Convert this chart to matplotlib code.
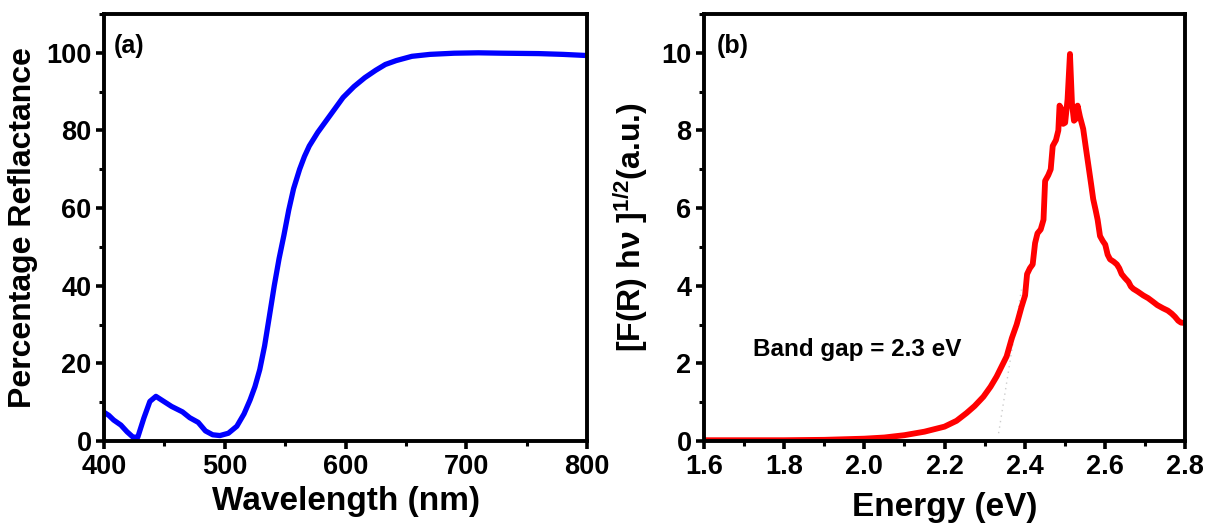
import numpy as np
import matplotlib
matplotlib.use("Agg")
import matplotlib.pyplot as plt
from matplotlib.ticker import MultipleLocator

# --- Data: diffuse reflectance spectrum ---
wavelength = [400, 404, 408, 414, 419, 424, 428, 433, 438, 443, 448, 456, 465, 471,
              478, 484, 490, 496, 503, 510, 516, 521, 525, 529, 533, 537, 541, 545,
              549, 553, 557, 562, 566, 570, 577, 584, 591, 598, 607, 616, 625, 633,
              642, 655, 670, 690, 710, 730, 760, 780, 800]
reflectance = [7.4, 6.6, 5.4, 4.1, 2.4, 1.0, 1.0, 5.9, 10.2, 11.5, 10.5, 8.9, 7.5, 6.0,
               4.8, 2.6, 1.6, 1.4, 2.0, 3.8, 7.0, 10.6, 14.0, 18.4, 24.5, 32.2, 40.0, 47.0,
               53.0, 59.5, 65.0, 70.0, 73.3, 76.0, 79.5, 82.5, 85.5, 88.5, 91.3, 93.6, 95.5, 97.0,
               98.0, 99.1, 99.6, 99.9, 100.0, 99.9, 99.8, 99.6, 99.3]

# --- Data: Kubelka-Munk plot ---
energy = [1.60, 1.70, 1.80, 1.90, 2.00, 2.05, 2.10, 2.15, 2.20, 2.23, 2.255, 2.275,
          2.297, 2.315, 2.330, 2.355, 2.368, 2.380, 2.392, 2.401, 2.406, 2.413, 2.420,
          2.426, 2.432, 2.440, 2.447, 2.451, 2.459, 2.465, 2.470, 2.478, 2.484, 2.487,
          2.492, 2.496, 2.501, 2.507, 2.513, 2.518, 2.523, 2.528, 2.532, 2.538, 2.546,
          2.552, 2.559, 2.566, 2.571, 2.577, 2.582, 2.588, 2.595, 2.601, 2.607, 2.613,
          2.622, 2.630, 2.636, 2.642, 2.650, 2.659, 2.665, 2.671, 2.682, 2.696, 2.708,
          2.721, 2.731, 2.745, 2.757, 2.767, 2.775, 2.783, 2.790, 2.800]
km_value = [0.02, 0.02, 0.02, 0.03, 0.06, 0.09, 0.15, 0.24, 0.37, 0.52, 0.72, 0.90,
            1.14, 1.40, 1.66, 2.18, 2.65, 3.00, 3.45, 3.75, 4.30, 4.45, 4.55,
            5.10, 5.35, 5.45, 5.70, 6.70, 6.85, 7.00, 7.60, 7.75, 8.00, 8.64,
            8.55, 8.17, 8.20, 8.80, 9.97, 8.70, 8.25, 8.30, 8.64, 8.35, 8.04,
            7.60, 7.10, 6.60, 6.23, 5.95, 5.70, 5.28, 5.15, 5.06, 4.80, 4.68,
            4.62, 4.55, 4.45, 4.30, 4.20, 4.10, 3.98, 3.92, 3.85, 3.75, 3.68,
            3.58, 3.50, 3.42, 3.36, 3.28, 3.20, 3.10, 3.05, 3.04]

# linear fit of the absorption edge
tangent_x = [2.335, 2.392]
tangent_y = [0.2, 3.9]

plt.rcParams['font.family'] = ['Liberation Sans', 'DejaVu Sans']
plt.rcParams['font.weight'] = 'bold'
plt.rcParams['mathtext.fontset'] = 'custom'
plt.rcParams['mathtext.rm'] = 'Liberation Sans:bold'
plt.rcParams['mathtext.bf'] = 'Liberation Sans:bold'
plt.rcParams['mathtext.it'] = 'Liberation Sans:bold'

fig = plt.figure(figsize=(12.09, 5.25), dpi=100)
ax_a = fig.add_axes([104 / 1209, 0.16, 483 / 1209, 427 / 525])
ax_b = fig.add_axes([704 / 1209, 0.16, 481 / 1209, 427 / 525])


def style_axes(ax):
    for sp in ax.spines.values():
        sp.set_linewidth(2.8)
    ax.tick_params(which='major', direction='out', length=6, width=2.6,
                   labelsize=19.5, pad=3, top=False, right=False)
    ax.tick_params(which='minor', direction='out', length=3.5, width=2.2,
                   top=False, right=False)
    for lab in ax.get_xticklabels() + ax.get_yticklabels():
        lab.set_fontweight('bold')


# (a) reflectance
ax_a.plot(wavelength, reflectance, color='#0000ff', lw=3.8, solid_capstyle='round')
ax_a.set_xlim(400, 800)
ax_a.set_ylim(0, 110)
ax_a.xaxis.set_major_locator(MultipleLocator(100))
ax_a.xaxis.set_minor_locator(MultipleLocator(50))
ax_a.yaxis.set_major_locator(MultipleLocator(20))
ax_a.yaxis.set_minor_locator(MultipleLocator(10))
ax_a.set_xlabel('Wavelength (nm)', fontsize=24, fontweight='bold', labelpad=5)
ax_a.set_ylabel('Percentage Reflactance', fontsize=23, fontweight='bold', labelpad=6)
ax_a.text(0.02, 0.925, '(a)', transform=ax_a.transAxes, fontsize=18,
          fontweight='bold', va='center', ha='left')
style_axes(ax_a)

# (b) Kubelka-Munk
ax_b.plot(tangent_x, tangent_y, color='#cccccc', lw=1.0, ls=(0, (1, 3)))
ax_b.plot(energy, km_value, color='#ff0000', lw=4.2, solid_capstyle='round')
ax_b.set_xlim(1.6, 2.8)
ax_b.set_ylim(0, 11)
ax_b.xaxis.set_major_locator(MultipleLocator(0.2))
ax_b.xaxis.set_minor_locator(MultipleLocator(0.1))
ax_b.yaxis.set_major_locator(MultipleLocator(2))
ax_b.yaxis.set_minor_locator(MultipleLocator(1))
ax_b.xaxis.set_major_formatter(plt.FormatStrFormatter('%.1f'))
ax_b.set_xlabel('Energy (eV)', fontsize=24, fontweight='bold', labelpad=9)
ax_b.set_ylabel(r'[F(R) h$\nu$ ]$^{1/2}$(a.u.)', fontsize=23, fontweight='bold', labelpad=8)
ax_b.text(0.026, 0.925, '(b)', transform=ax_b.transAxes, fontsize=18,
          fontweight='bold', va='center', ha='left')
ax_b.text(1.722, 2.35, 'Band gap = 2.3 eV', fontsize=17.5, fontweight='bold',
          va='center', ha='left')
style_axes(ax_b)

fig.savefig('out.png', dpi=100)
